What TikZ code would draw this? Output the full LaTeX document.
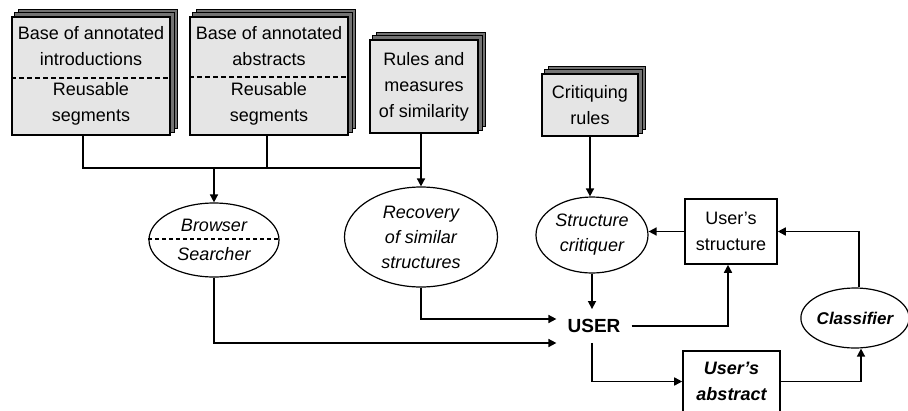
\documentclass[tikz,border=0pt]{standalone}
\usepackage{fontspec}
\setmainfont{Liberation Sans}
\usetikzlibrary{arrows.meta,shapes.geometric,backgrounds}

\definecolor{facegray}{gray}{0.9}
\definecolor{layergray}{gray}{0.45}

\begin{document}
\begin{tikzpicture}[x=1pt, y=-1pt,
	txt/.style={font=\fontsize{18}{26}\selectfont, align=center},
	base/.style={txt, draw, line width=1.6pt, fill=facegray, inner sep=0pt},
	proc/.style={txt, ellipse, draw, line width=1.2pt, fill=white, inner sep=0pt, font=\fontsize{18}{25}\selectfont\itshape},
	item/.style={txt, rectangle, draw, line width=1.6pt, fill=white, inner sep=0pt},
	link/.style={line width=1.6pt},
	arr/.style={link, -{Triangle[length=8pt,width=8pt]}}]
	\useasboundingbox (0,0) rectangle (908,410);

	% knowledge bases
	\node [base, minimum width=158pt, minimum height=118pt] (intro) at (91,76) {Base of annotated\\introductions\\[4pt]Reusable\\segments};
	\node [base, minimum width=158pt, minimum height=118pt] (abs) at (269,76) {Base of annotated\\abstracts\\[4pt]Reusable\\segments};
	\node [base, minimum width=108pt, minimum height=93pt] (rules) at (424,86.5) {Rules and\\measures\\of similarity};
	\node [base, minimum width=96pt, minimum height=62pt] (crules) at (590,105) {Critiquing\\rules};
	\begin{scope}[on background layer]
		\foreach \n in {intro,abs,rules,crules}
			\foreach \s in {7,3.5}
				\draw [line width=1.2pt, fill=layergray] ([shift={(\s,-\s)}]\n.south west) rectangle ([shift={(\s,-\s)}]\n.north east);
	\end{scope}
	\draw [dashed, dash pattern=on 5pt off 3pt, line width=1.2pt] ([yshift=-2pt]intro.west) -- ([yshift=-2pt]intro.east);
	\draw [dashed, dash pattern=on 5pt off 3pt, line width=1.2pt] ([yshift=-1pt]abs.west) -- ([yshift=-1pt]abs.east);

	% processes
	\node [proc, minimum width=130pt, minimum height=74pt] (browse) at (214,240) {Browser\\[4pt]Searcher};
	\draw [dashed, dash pattern=on 4pt off 3pt, line width=1.2pt] ([yshift=1pt]browse.west) -- ([yshift=1pt]browse.east);
	\node [proc, minimum width=153pt, minimum height=100pt] (recov) at (421,237) {Recovery\\of similar\\structures};
	\node [proc, minimum width=112pt, minimum height=76pt] (critq) at (592,235) {Structure\\critiquer};
	\node [proc, minimum width=104pt, minimum height=60pt, font=\fontsize{17}{20}\selectfont\bfseries\itshape] (classif) at (855,318) {Classifier};
	\node [item, minimum width=92pt, minimum height=65pt] (ustruct) at (731,231.5) {User's\\structure};
	\node [item, minimum width=97pt, minimum height=61pt, font=\fontsize{18}{26}\selectfont\bfseries\itshape] (uabs) at (731.5,381.5) {User's\\abstract};
	\node [font=\fontsize{19}{20}\selectfont\bfseries, inner xsep=11pt, inner ysep=10pt] (user) at (594,326) {USER};

	% connectors
	\coordinate (busL) at (83,168);
	\coordinate (busM) at (267,168);
	\coordinate (busR) at (421,168);
	\draw [link] (intro.south -| busL) -- (busL) -- (busR) -- (rules.south -| busR);
	\draw [link] (abs.south -| busM) -- (busM);
	\draw [arr] (browse.north |- busL) -- (browse.north);
	\draw [arr] (busR) -- (recov.north);
	\draw [arr] (crules.south) -- (crules.south |- critq.north);
	\draw [arr] (ustruct.west) -- (ustruct.west -| critq.east);
	\draw [arr] ([xshift=4pt]classif.north) |- (ustruct.east);
	\draw [arr] (critq.south) -- (critq.south |- user.north);
	\draw [arr] (user.east) -| ([xshift=-3pt]ustruct.south);
	\draw [arr] (recov.south) |- ([yshift=7pt]user.west);
	\draw [arr] (browse.south) |- ([yshift=-17pt]user.west);
	\draw [arr] (critq.south |- user.south) |- (uabs.west);
	\draw [arr] (uabs.east) -| ([xshift=6pt]classif.south);
\end{tikzpicture}
\end{document}
